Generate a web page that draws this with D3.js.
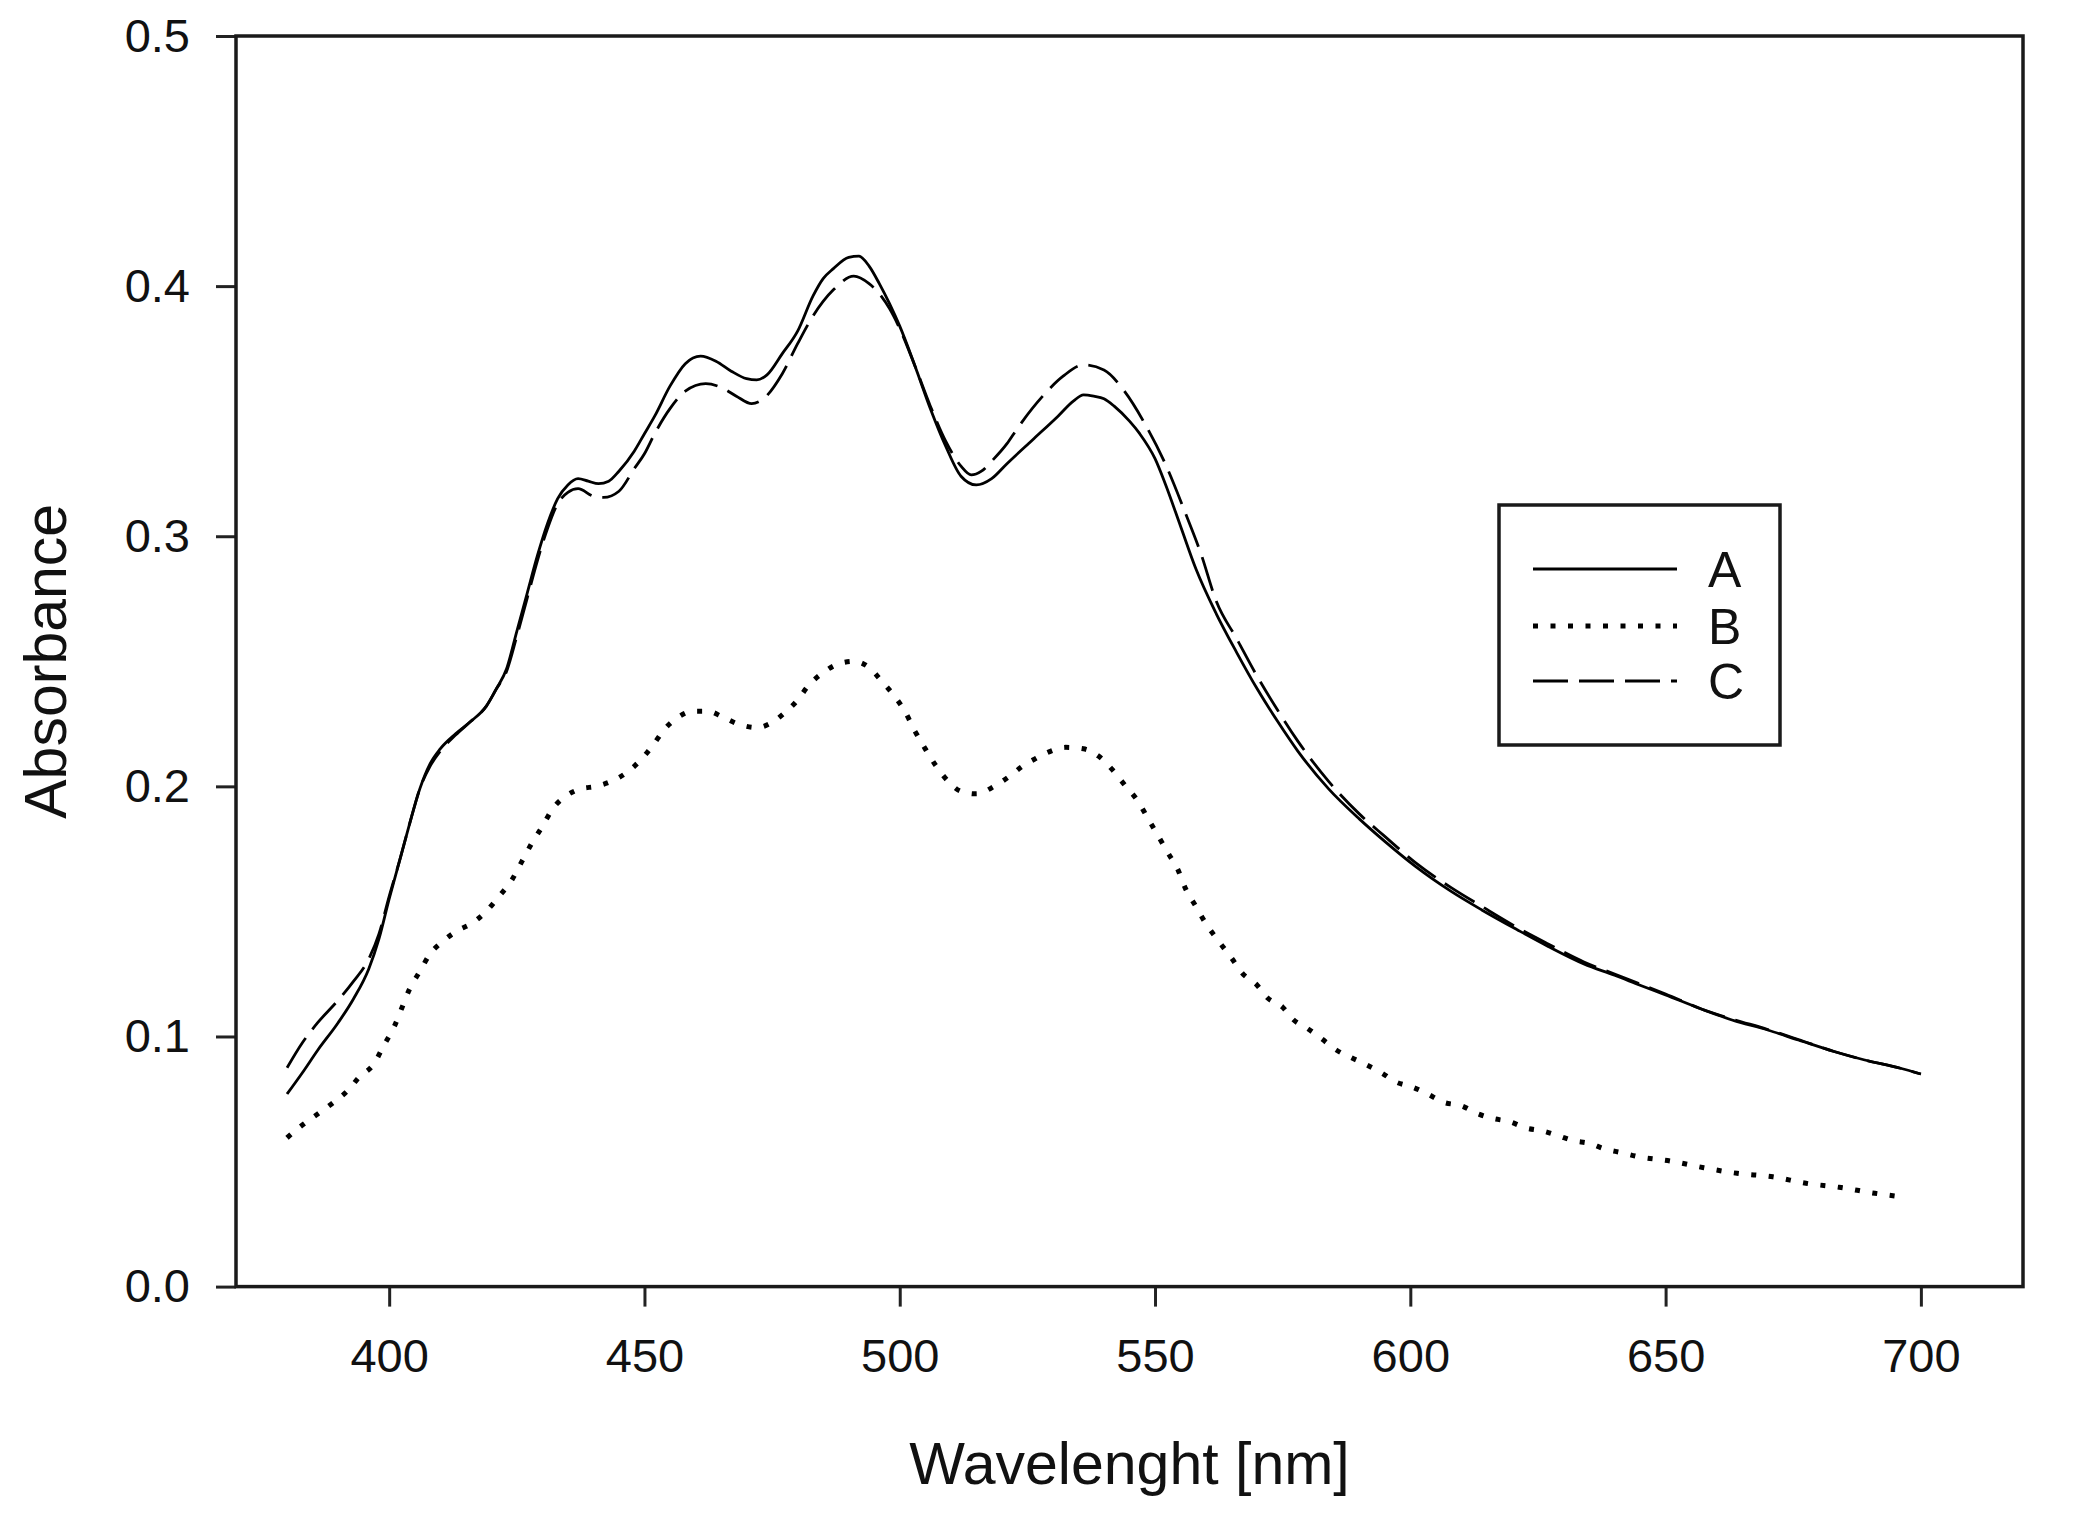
<!DOCTYPE html>
<html>
<head>
<meta charset="utf-8">
<script src="https://cdn.jsdelivr.net/npm/d3@7"></script>
<style>
  html, body { margin: 0; padding: 0; background: #fff; }
  svg { display: block; font-family: "Liberation Sans", Arial, sans-serif; }
  .axis path { display: none; }
  .axis line { stroke: #222; stroke-width: 3; }
  .axis text { fill: #111; font-size: 47px; }
  .frame { fill: none; stroke: #1a1a1a; stroke-width: 3.5; }
  .axis-title { fill: #111; font-size: 59px; }
  .legend-box { fill: #fff; stroke: #1a1a1a; stroke-width: 3.5; }
  .legend-label { fill: #111; font-size: 50px; }
  .curve { fill: none; stroke: #000; }
  .curve.A { stroke-width: 2.8; }
  .curve.B { stroke-width: 5; stroke-dasharray: 5 12.5; }
  .curve.C { stroke-width: 2.8; stroke-dasharray: 35 11; }
</style>
</head>
<body>
<div id="chart"></div>
<script>
// series A (solid)
let wavelengthA = [380,383,386,390,393,396,398,400,402,404,406,408,410,413,416,419,421,423,425,427,429,431,433,435,437,439,441,443,445,448,450,452,455,458,461,464,467,470,472,474,477,480,483,485,487,490,492,494,496,498,500,503,506,509,512,515,518,521,526,531,534,536,538,540,542,545,547,550,552,555,558,562,566,570,574,578,584,590,595,601,608,614,621,627,634,640,645,650,657,663,670,676,683,689,696,700];
let absorbanceA = [0.077,0.0855,0.0945,0.1055,0.115,0.127,0.139,0.155,0.170,0.185,0.199,0.209,0.215,0.221,0.226,0.232,0.239,0.247,0.262,0.277,0.292,0.305,0.315,0.3205,0.323,0.322,0.321,0.322,0.326,0.334,0.341,0.348,0.360,0.369,0.372,0.370,0.366,0.363,0.3625,0.3645,0.373,0.382,0.396,0.403,0.407,0.4115,0.412,0.408,0.401,0.393,0.384,0.368,0.351,0.336,0.324,0.3205,0.323,0.329,0.3385,0.348,0.354,0.3565,0.356,0.355,0.352,0.346,0.341,0.331,0.321,0.304,0.287,0.269,0.2535,0.239,0.226,0.214,0.199,0.187,0.178,0.168,0.158,0.1506,0.1426,0.136,0.129,0.1245,0.1205,0.1166,0.111,0.1066,0.1026,0.0986,0.094,0.0906,0.0873,0.085];

// series B (dotted)
let wavelengthB = [380,383,386,389,392,394,397,399,401,402.5,404,406,408,410.5,413.5,416,419,421.5,424,426,428,430,432,434.5,437.5,440.5,443.5,446.5,449,451.5,454,456.5,459.5,462.5,465.5,468.5,472,474.5,477.5,480,482,485,488,491,494,496.5,499,501,503,505,507,509.5,512,515,518.5,521.5,524,526.5,529.5,532.5,536,539,541.5,544,546.5,548.5,550.5,552.5,554.5,556,558,560,562.5,565,567,570,572,575,577,580,582.5,585.5,588.5,591.5,594.5,597,600.5,603.5,606.5,610,613,616,619.5,622.5,626,629,632,635,638,641.5,644.5,651,657.5,664,671,677.5,684,691,697];
let absorbanceB = [0.0595,0.0646,0.069,0.0735,0.0786,0.0835,0.089,0.0966,0.104,0.1115,0.119,0.126,0.133,0.138,0.1425,0.145,0.150,0.156,0.1625,0.170,0.1775,0.184,0.191,0.196,0.199,0.200,0.202,0.2055,0.210,0.216,0.223,0.2275,0.230,0.230,0.2275,0.2248,0.2235,0.225,0.2295,0.2345,0.240,0.2455,0.249,0.250,0.2475,0.242,0.236,0.230,0.222,0.215,0.2085,0.202,0.198,0.197,0.200,0.204,0.208,0.211,0.214,0.2156,0.215,0.212,0.207,0.2007,0.1945,0.1876,0.1806,0.1735,0.1666,0.159,0.152,0.145,0.138,0.1313,0.1255,0.1205,0.1155,0.1117,0.1069,0.103,0.0993,0.0946,0.0915,0.0886,0.0853,0.082,0.0797,0.0769,0.0737,0.0723,0.0693,0.0673,0.0659,0.0635,0.0622,0.0603,0.0583,0.0573,0.0551,0.0535,0.052,0.0502,0.0475,0.0453,0.0439,0.0413,0.0397,0.0373,0.0357];

// series C (dashed)
let wavelengthC = [380,383,386,390,393,396,398,400,402,404,406,408,410,413,416,419,421,423,425,427,429,431,433,435,437,440,442,445,448,450,452,455,458,462,465,468,471,473,477,480,483,487,491,494,496,498,500,503,506,509,512,514,516,518,521,523,528,532,536,540,544,548,552,556,559,562,566,570,574,578,584,590,595,601,608,614,621,627,634,640,645,650,657,663,670,676,683,689,696,700];
let absorbanceC = [0.0875,0.0975,0.1055,0.1145,0.122,0.131,0.141,0.156,0.170,0.185,0.199,0.208,0.214,0.2205,0.226,0.232,0.239,0.246,0.260,0.275,0.290,0.303,0.313,0.3175,0.319,0.316,0.3155,0.318,0.327,0.333,0.341,0.351,0.358,0.361,0.3595,0.356,0.353,0.3545,0.365,0.377,0.388,0.3985,0.404,0.401,0.397,0.391,0.383,0.368,0.352,0.338,0.328,0.3245,0.326,0.330,0.337,0.343,0.356,0.364,0.3685,0.3665,0.358,0.345,0.329,0.309,0.293,0.274,0.259,0.244,0.2305,0.218,0.202,0.189,0.180,0.1695,0.1595,0.152,0.1435,0.137,0.1298,0.125,0.121,0.117,0.111,0.107,0.1028,0.0988,0.094,0.0906,0.0873,0.085];

let xTicks = [400,450,500,550,600,650,700];
let yTicks = [0.0,0.1,0.2,0.3,0.4,0.5];
let seriesNames = ["A","B","C"];

let total_width = 2078;
let total_height = 1535;
let plot = {left: 236, right: 2023, top: 36, bottom: 1286.6};

let x = d3.scaleLinear().domain([370,720]).range([plot.left, plot.right]);
let y = d3.scaleLinear().domain([0,0.5]).range([plot.bottom, plot.top]);

let svg = d3.select("#chart").append("svg")
    .attr("width", total_width)
    .attr("height", total_height);

// axes
svg.append("g")
    .attr("class","axis x")
    .attr("transform","translate(0,"+plot.bottom+")")
    .call(d3.axisBottom(x).tickValues(xTicks).tickSize(20).tickSizeOuter(0).tickPadding(32).tickFormat(d3.format("d")));

svg.append("g")
    .attr("class","axis y")
    .attr("transform","translate("+plot.left+",0)")
    .call(d3.axisLeft(y).tickValues(yTicks).tickSize(20).tickSizeOuter(0).tickPadding(26).tickFormat(d3.format(".1f")));

svg.append("rect")
    .attr("class","frame")
    .attr("x", plot.left)
    .attr("y", plot.top)
    .attr("width", plot.right - plot.left)
    .attr("height", plot.bottom - plot.top);

// curves
let line = d3.line()
    .x(d => x(d[0]))
    .y(d => y(d[1]))
    .curve(d3.curveMonotoneX);

let series = [
  {name:"A", w: wavelengthA, v: absorbanceA},
  {name:"B", w: wavelengthB, v: absorbanceB},
  {name:"C", w: wavelengthC, v: absorbanceC}
];

svg.append("g").selectAll("path").data(series).enter().append("path")
    .attr("class", d => "curve " + d.name)
    .attr("d", d => line(d.w.map((w,i) => [w, d.v[i]])));

// titles
svg.append("text")
    .attr("class","axis-title")
    .attr("x", (plot.left + plot.right)/2)
    .attr("y", 1484)
    .attr("text-anchor","middle")
    .text("Wavelenght [nm]");

svg.append("text")
    .attr("class","axis-title")
    .attr("transform","translate(66,"+((plot.top + plot.bottom)/2)+") rotate(-90)")
    .attr("text-anchor","middle")
    .text("Absorbance");

// legend
let legend = svg.append("g").attr("class","legend");
legend.append("rect")
    .attr("class","legend-box")
    .attr("x",1499).attr("y",505)
    .attr("width",281).attr("height",240);

let legendRows = [569, 626, 681];
seriesNames.forEach((name,i) => {
  legend.append("line")
      .attr("class","curve " + name)
      .attr("x1",1533).attr("x2",1677)
      .attr("y1",legendRows[i]).attr("y2",legendRows[i]);
  legend.append("text")
      .attr("class","legend-label")
      .attr("x",1708)
      .attr("y",legendRows[i] + 18)
      .text(name);
});
</script>
</body>
</html>
